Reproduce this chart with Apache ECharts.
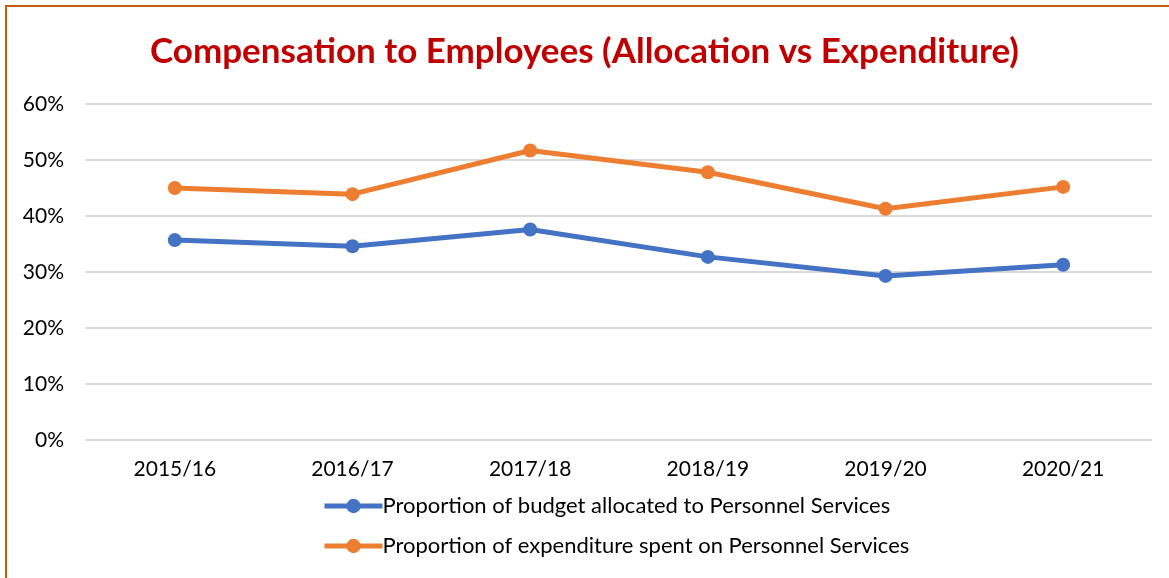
<!DOCTYPE html>
<html>
<head>
<meta charset="utf-8">
<script src="https://cdn.jsdelivr.net/npm/echarts@6/dist/echarts.min.js"></script>
<style>
  html, body { margin: 0; padding: 0; background: #fff; }
  #frame {
    position: absolute; left: 5px; top: 5px; width: 1180px; height: 590px;
    border-top: 2px solid #C55A11; border-left: 2px solid #C55A11;
  }
  #chart { position: absolute; left: 0; top: 0; width: 1169px; height: 578px; }
</style>
</head>
<body>
<div id="frame"></div>
<div id="chart"></div>
<script>
// 年度
const years = ['2015/16', '2016/17', '2017/18', '2018/19', '2019/20', '2020/21'];
// 预算占比
const budgetShare = [35.7, 34.6, 37.6, 32.7, 29.3, 31.3];
// 支出占比
const expenditureShare = [45.0, 43.9, 51.7, 47.8, 41.3, 45.2];
const seriesNames = [
  'Proportion of budget allocated to Personnel Services',
  'Proportion of expenditure spent on Personnel Services',
];

const chart = echarts.init(document.getElementById('chart'));
const font = 'Lato, "Open Sans", sans-serif';

chart.setOption({
  animation: false,
  title: {
    text: 'Compensation to Employees (Allocation vs Expenditure)',
    left: 'center',
    top: 29,
    textStyle: { color: '#C00000', fontSize: 35, fontWeight: 'bold', fontFamily: font },
  },
  grid: { left: 86, right: 17, top: 104, bottom: 138 },
  legend: {
    orient: 'vertical',
    left: 317,
    top: 490,
    itemWidth: 58,
    itemHeight: 18,
    itemGap: 18,
    lineStyle: { width: 5 },
    textStyle: { fontSize: 22, color: '#000', fontFamily: font, padding: [0, 0, 0, -5] },
    data: seriesNames,
  },
  xAxis: {
    type: 'category',
    data: years,
    axisLine: { show: false },
    axisTick: { show: false },
    axisLabel: { fontSize: 21, color: '#000', fontFamily: font, margin: 19 },
  },
  yAxis: {
    type: 'value',
    min: 0,
    max: 60,
    interval: 10,
    axisLabel: { formatter: '{value}%', fontSize: 21, color: '#000', fontFamily: font, margin: 22 },
    splitLine: { lineStyle: { color: '#D9D9D9', width: 2 } },
  },
  series: [
    {
      name: seriesNames[0],
      type: 'line',
      data: budgetShare,
      symbol: 'circle',
      symbolSize: 14,
      lineStyle: { width: 5, color: '#4472C4' },
      itemStyle: { color: '#4472C4' },
    },
    {
      name: seriesNames[1],
      type: 'line',
      data: expenditureShare,
      symbol: 'circle',
      symbolSize: 14,
      lineStyle: { width: 5, color: '#ED7D31' },
      itemStyle: { color: '#ED7D31' },
    },
  ],
});
</script>
</body>
</html>
